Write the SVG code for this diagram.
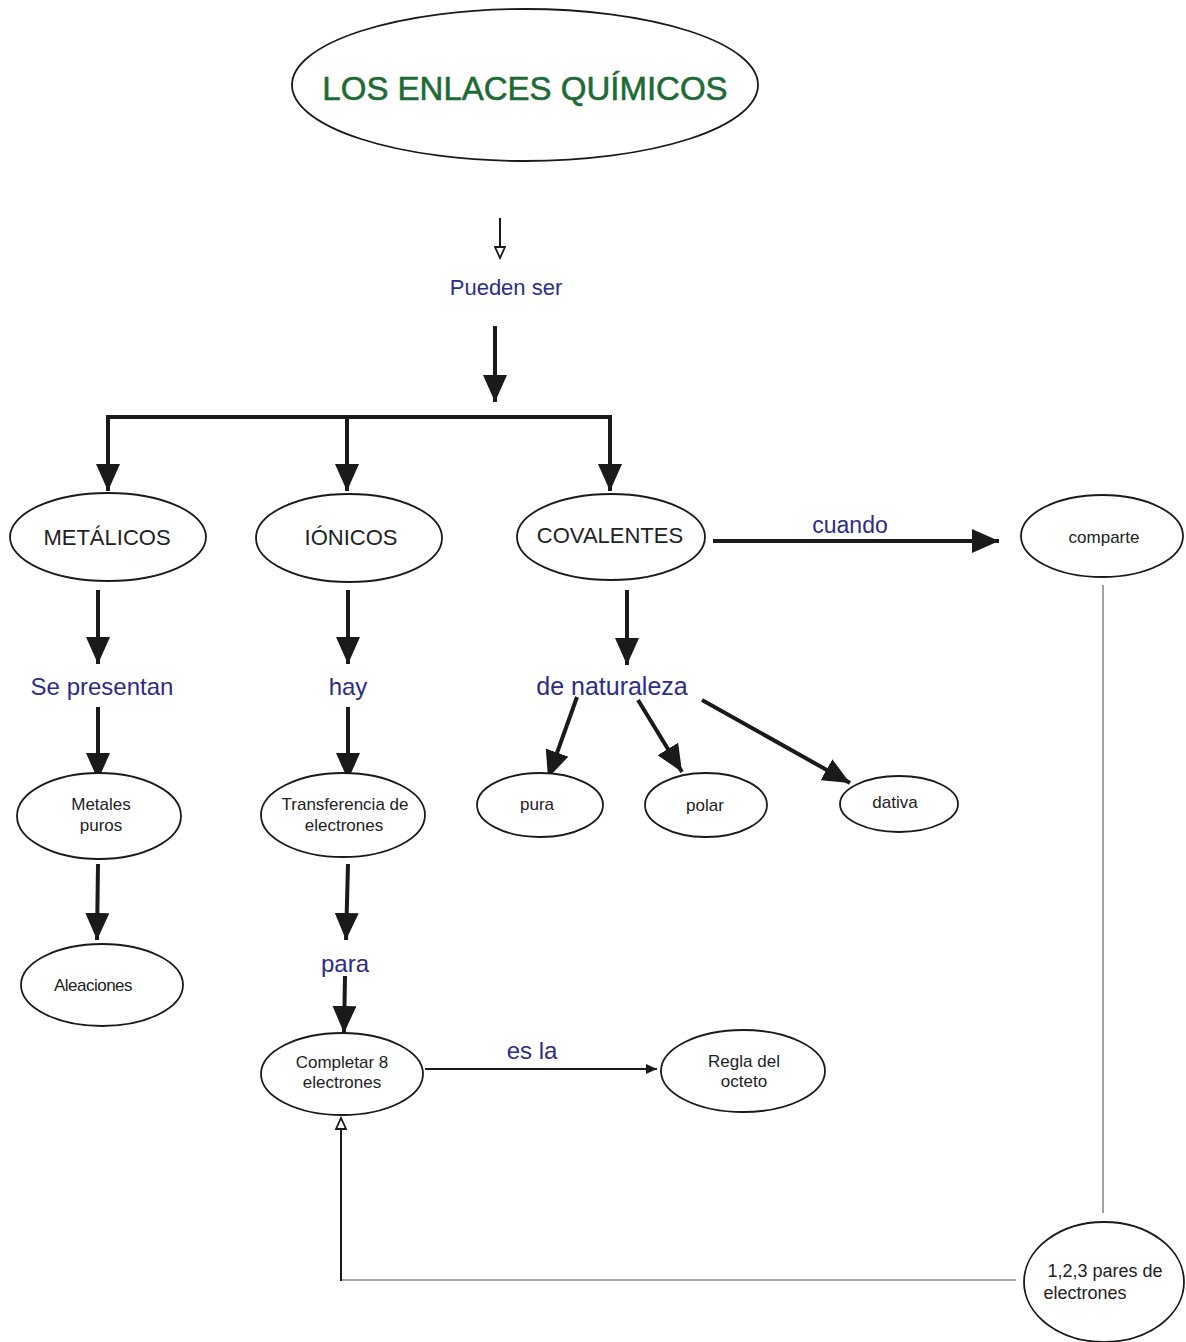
<svg xmlns="http://www.w3.org/2000/svg" width="1186" height="1342" viewBox="0 0 1186 1342">
<style>
  text { font-family: "Liberation Sans", Arial, sans-serif; text-anchor: middle; }
  .node ellipse { fill: #ffffff; stroke: #1a1a1a; stroke-width: 1.8; }
  .big { font-size: 22px; fill: #222222; }
  .small { font-size: 17px; fill: #222222; }
  .lbl { font-size: 24px; fill: #2e2c87; }
  .thick { stroke: #1a1a1a; stroke-width: 4; fill: none; }
  .thin { stroke: #1a1a1a; stroke-width: 2; fill: none; }
  .gray { stroke: #8a8a8a; stroke-width: 1.6; fill: none; }
</style>
<defs>
  <marker id="big" markerUnits="userSpaceOnUse" markerWidth="28" markerHeight="24" refX="27" refY="12" orient="auto">
    <path d="M0,0 L27,12 L0,24 Z" fill="#1a1a1a"/>
  </marker>
  <marker id="mid" markerUnits="userSpaceOnUse" markerWidth="12" markerHeight="10" refX="11" refY="5" orient="auto">
    <path d="M0,0 L11,5 L0,10 Z" fill="#1a1a1a"/>
  </marker>
  <marker id="open" markerUnits="userSpaceOnUse" markerWidth="14" markerHeight="12" refX="12" refY="6" orient="auto">
    <path d="M1,1 L12,6 L1,11 Z" fill="#ffffff" stroke="#1a1a1a" stroke-width="1.8"/>
  </marker>
</defs>

<g id="connectors">
  <line class="thin" x1="500" y1="218" x2="500" y2="258" marker-end="url(#open)"/>
  <line class="thick" x1="495" y1="326" x2="495" y2="402" marker-end="url(#big)"/>
  <line class="thick" x1="106" y1="417" x2="612" y2="417"/>
  <line class="thick" x1="108" y1="417" x2="108" y2="491" marker-end="url(#big)"/>
  <line class="thick" x1="347" y1="417" x2="347" y2="491" marker-end="url(#big)"/>
  <line class="thick" x1="610" y1="417" x2="610" y2="491" marker-end="url(#big)"/>
  <line class="thick" x1="713" y1="541" x2="999" y2="541" marker-end="url(#big)"/>
  <line class="thick" x1="98" y1="590" x2="98" y2="664" marker-end="url(#big)"/>
  <line class="thick" x1="98" y1="707" x2="98" y2="780" marker-end="url(#big)"/>
  <line class="thick" x1="98" y1="864" x2="97" y2="940" marker-end="url(#big)"/>
  <line class="thick" x1="348" y1="590" x2="348" y2="664" marker-end="url(#big)"/>
  <line class="thick" x1="348" y1="707" x2="348" y2="780" marker-end="url(#big)"/>
  <line class="thick" x1="348" y1="864" x2="346" y2="940" marker-end="url(#big)"/>
  <line class="thick" x1="345" y1="976" x2="344" y2="1033" marker-end="url(#big)"/>
  <line class="thick" x1="627" y1="590" x2="627" y2="665" marker-end="url(#big)"/>
  <line class="thick" x1="577" y1="697" x2="548" y2="778" marker-end="url(#big)"/>
  <line class="thick" x1="638" y1="700" x2="682" y2="772" marker-end="url(#big)"/>
  <line class="thick" x1="702" y1="700" x2="850" y2="783" marker-end="url(#big)"/>
  <line class="thin" x1="425" y1="1069" x2="657" y2="1069" marker-end="url(#mid)"/>
  <line class="gray" x1="1103" y1="585" x2="1103" y2="1213"/>
  <line class="gray" x1="1016" y1="1280" x2="341" y2="1280"/>
  <line class="thin" x1="341" y1="1281" x2="341" y2="1118" marker-end="url(#open)"/>
</g>

<g id="labels">
  <text class="lbl" x="506" y="295" style="font-size:22px">Pueden ser</text>
  <text class="lbl" x="850" y="533" style="font-size:23px">cuando</text>
  <text class="lbl" x="102" y="695">Se presentan</text>
  <text class="lbl" x="348" y="695">hay</text>
  <text class="lbl" x="612" y="695" style="font-size:25px">de naturaleza</text>
  <text class="lbl" x="345" y="972">para</text>
  <text class="lbl" x="532" y="1059">es la</text>
</g>

<g id="n-title" class="node">
  <ellipse cx="525" cy="85" rx="233" ry="76"/>
  <text x="525" y="100" style="font-size:33px; fill:#1d6a36; stroke:#1d6a36; stroke-width:0.6">LOS ENLACES QUÍMICOS</text>
</g>
<g id="n-metalicos" class="node">
  <ellipse cx="108" cy="537" rx="98" ry="44"/>
  <text class="big" x="107" y="545">METÁLICOS</text>
</g>
<g id="n-ionicos" class="node">
  <ellipse cx="349" cy="538" rx="93" ry="44"/>
  <text class="big" x="351" y="545">IÓNICOS</text>
</g>
<g id="n-covalentes" class="node">
  <ellipse cx="611" cy="537" rx="94" ry="43"/>
  <text class="big" x="610" y="543">COVALENTES</text>
</g>
<g id="n-comparte" class="node">
  <ellipse cx="1102" cy="536" rx="81" ry="41"/>
  <text class="small" x="1104" y="543">comparte</text>
</g>
<g id="n-metales" class="node">
  <ellipse cx="99" cy="816" rx="82" ry="43"/>
  <text class="small" x="101" y="810">Metales</text>
  <text class="small" x="101" y="831">puros</text>
</g>
<g id="n-aleaciones" class="node">
  <ellipse cx="102" cy="985" rx="81" ry="41"/>
  <text class="small" x="93" y="991" style="letter-spacing:-0.5px">Aleaciones</text>
</g>
<g id="n-transferencia" class="node">
  <ellipse cx="343" cy="815" rx="82" ry="42"/>
  <text class="small" x="345" y="810">Transferencia de</text>
  <text class="small" x="344" y="831">electrones</text>
</g>
<g id="n-completar" class="node">
  <ellipse cx="342" cy="1074" rx="81" ry="41"/>
  <text class="small" x="342" y="1068">Completar 8</text>
  <text class="small" x="342" y="1088">electrones</text>
</g>
<g id="n-regla" class="node">
  <ellipse cx="743" cy="1071" rx="82" ry="41"/>
  <text class="small" x="744" y="1067">Regla del</text>
  <text class="small" x="744" y="1087">octeto</text>
</g>
<g id="n-pura" class="node">
  <ellipse cx="540" cy="805" rx="63" ry="32"/>
  <text class="small" x="537" y="810">pura</text>
</g>
<g id="n-polar" class="node">
  <ellipse cx="706" cy="805" rx="61" ry="32"/>
  <text class="small" x="705" y="811">polar</text>
</g>
<g id="n-dativa" class="node">
  <ellipse cx="899" cy="804" rx="59" ry="28"/>
  <text class="small" x="895" y="808">dativa</text>
</g>
<g id="n-pares" class="node">
  <ellipse cx="1104" cy="1282" rx="80" ry="60"/>
  <text class="small" x="1105" y="1277" style="font-size:18px">1,2,3 pares de</text>
  <text class="small" x="1085" y="1299" style="font-size:18px">electrones</text>
</g>
</svg>
